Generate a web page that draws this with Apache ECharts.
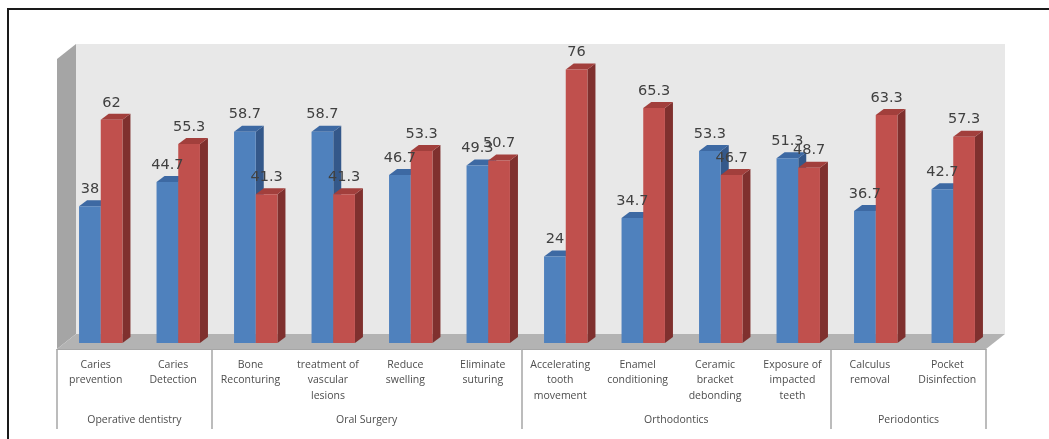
<!DOCTYPE html>
<html>
<head>
<meta charset="utf-8">
<script src="https://cdn.jsdelivr.net/npm/echarts@6/dist/echarts.min.js"></script>
<style>
  html, body { margin: 0; padding: 0; background: #fff; }
  #chart { width: 1049px; height: 439px; }
</style>
</head>
<body>
<div id="chart"></div>
<script>
const categories = [
  "Caries\nprevention", "Caries\nDetection",
  "Bone\nReconturing", "treatment of\nvascular\nlesions", "Reduce\nswelling", "Eliminate\nsuturing",
  "Accelerating\ntooth\nmovement", "Enamel\nconditioning", "Ceramic\nbracket\ndebonding", "Exposure of\nimpacted\nteeth",
  "Calculus\nremoval", "Pocket\nDisinfection"
];
const groups = ["Operative dentistry", "Oral Surgery", "Orthodontics", "Periodontics"];
const groupSizes = [2, 4, 4, 2];
const blueValues = [38, 44.7, 58.7, 58.7, 46.7, 49.3, 24, 34.7, 53.3, 51.3, 36.7, 42.7];
const redValues = [62, 55.3, 41.3, 41.3, 53.3, 50.7, 76, 65.3, 46.7, 48.7, 63.3, 57.3];

// fake 3D box: front edge of the floor, depth of walls and bars
const PLANE_L = 57, PLANE_R = 986, FLOOR_Y = 349;
const DX = 19, DY = 15, WALL_TOP = 44;
const BAR_DX = 8, BAR_DY = 6;
const BAR_RATIO = 0.28;
const LABEL_FONT = "'Open Sans', Lato, sans-serif";
const VALUE_FONT = "'DejaVu Sans', sans-serif";

const groupEdges = [0];
groupSizes.forEach(n => groupEdges.push(groupEdges[groupEdges.length - 1] + n));
const groupCenters = groups.map((g, i) => (groupEdges[i] + groupEdges[i + 1]) / 2);

const blue = { front: "#4f81bd", side: "#34588a", top: "#3d69a3" };
const red = { front: "#c0504d", side: "#7f302e", top: "#a23f3c" };

const chart = echarts.init(document.getElementById("chart"));

// one prism per value; side < 0 puts the bar left of the category centre
function prism(colors, side) {
  return function (params, api) {
    const v = api.value(1);
    const base = api.coord([api.value(0), 0]);
    const top = api.coord([api.value(0), v]);
    const bw = api.size([1, 0])[0] * BAR_RATIO;
    const x0 = side < 0 ? base[0] - bw : base[0];
    const x1 = x0 + bw;
    const y0 = top[1], y1 = base[1];
    return {
      type: "group",
      children: [
        {
          type: "polygon",
          shape: { points: [[x1, y0], [x1 + BAR_DX, y0 - BAR_DY], [x1 + BAR_DX, y1 - BAR_DY], [x1, y1]] },
          style: { fill: colors.side }
        },
        {
          type: "polygon",
          shape: { points: [[x0, y0], [x0 + BAR_DX, y0 - BAR_DY], [x1 + BAR_DX, y0 - BAR_DY], [x1, y0]] },
          style: { fill: colors.top }
        },
        {
          type: "rect",
          shape: { x: x0, y: y0, width: bw, height: y1 - y0 },
          style: { fill: colors.front }
        },
        {
          type: "text",
          z2: 100,
          style: {
            text: String(v), x: (x0 + x1) / 2, y: y0 - 17,
            align: "center", verticalAlign: "middle",
            fontSize: 14.5, fontFamily: VALUE_FONT, fill: "#404040"
          }
        }
      ]
    };
  };
}

const option = {
  animation: false,
  grid: [
    { left: 62, right: 57, top: 55, bottom: 96 },
    { left: PLANE_L, right: 1049 - PLANE_R, top: 55, bottom: 439 - FLOOR_Y }
  ],
  xAxis: [
    { gridIndex: 0, type: "category", data: categories, show: false },
    {
      gridIndex: 1, type: "category", data: categories, position: "bottom",
      axisLine: { show: true, lineStyle: { color: "#a6a6a6", width: 1 } },
      axisTick: { show: false },
      axisLabel: { interval: 0, margin: 8, fontSize: 10.5, lineHeight: 15.5, color: "#4d4d4d", fontFamily: LABEL_FONT }
    },
    {
      gridIndex: 1, type: "value", min: 0, max: 12, position: "bottom", offset: 0,
      axisLine: { show: false },
      axisTick: { show: true, customValues: groupEdges, length: 80, lineStyle: { color: "#a6a6a6", width: 1.5 } },
      axisLabel: {
        customValues: groupCenters, margin: 66, fontSize: 10.5, color: "#4d4d4d", fontFamily: LABEL_FONT,
        formatter: v => groups[groupCenters.indexOf(v)] || ""
      },
      splitLine: { show: false }
    }
  ],
  yAxis: [
    { gridIndex: 0, type: "value", min: 0, max: 80, show: false },
    { gridIndex: 1, type: "value", show: false }
  ],
  graphic: [
    {
      type: "rect", z: -10,
      shape: { x: PLANE_L + DX, y: WALL_TOP, width: PLANE_R - PLANE_L, height: FLOOR_Y - DY - WALL_TOP },
      style: { fill: "#e8e8e8" }
    },
    {
      type: "polygon", z: -10,
      shape: { points: [[PLANE_L, WALL_TOP + DY], [PLANE_L + DX, WALL_TOP], [PLANE_L + DX, FLOOR_Y - DY], [PLANE_L, FLOOR_Y]] },
      style: { fill: "#a5a5a5" }
    },
    {
      type: "polygon", z: -10,
      shape: { points: [[PLANE_L, FLOOR_Y], [PLANE_L + DX, FLOOR_Y - DY], [PLANE_R + DX, FLOOR_Y - DY], [PLANE_R, FLOOR_Y]] },
      style: { fill: "#b3b3b3" }
    },
    {
      type: "polyline", z: 10,
      shape: { points: [[8, 439], [8, 9], [1049, 9]] },
      style: { stroke: "#1a1a1a", lineWidth: 2, fill: null }
    }
  ],
  series: [
    {
      type: "custom", xAxisIndex: 0, yAxisIndex: 0,
      renderItem: prism(blue, -1),
      data: blueValues.map((v, i) => [i, v])
    },
    {
      type: "custom", xAxisIndex: 0, yAxisIndex: 0,
      renderItem: prism(red, 1),
      data: redValues.map((v, i) => [i, v])
    }
  ]
};

chart.setOption(option);
</script>
</body>
</html>
